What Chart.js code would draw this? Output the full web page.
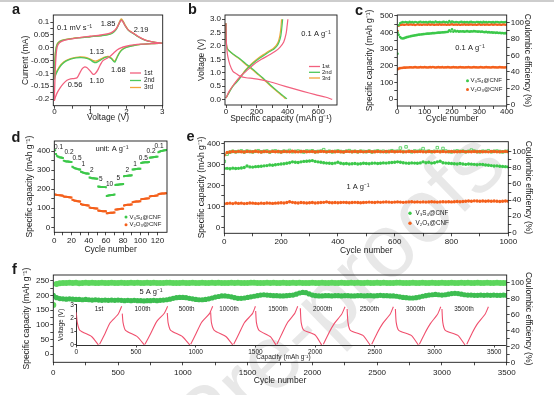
<!DOCTYPE html>
<html><head><meta charset="utf-8">
<script src="https://cdn.jsdelivr.net/npm/chart.js@4.4.1/dist/chart.umd.min.js"></script>
<style>
html,body{margin:0;padding:0;background:#fff}
#page{position:relative;width:554px;height:395px;overflow:hidden;background:#fff}
#page canvas{position:absolute;left:0;top:0}
#bar{position:absolute;left:0;top:0;width:554px;height:2px;background:#cdcdcd}
#wm{position:absolute;left:-23px;top:607px;font:90px Arial,"Liberation Sans",sans-serif;line-height:90px;color:#e8e8e8;white-space:nowrap;transform-origin:0 76px;transform:rotate(-44deg)}
</style></head><body>
<div id="page">
<div id="wm">Journal Pre-proofs</div>
<div id="bar"></div>
<canvas id="cA" width="554" height="395"></canvas>
<canvas id="cB" width="554" height="395"></canvas>
<canvas id="cC" width="554" height="395"></canvas>
<canvas id="cD" width="554" height="395"></canvas>
<canvas id="cE" width="554" height="395"></canvas>
<canvas id="cF" width="554" height="395"></canvas>
<canvas id="cI" width="554" height="395"></canvas>
</div>
<script>
// ================= DATA =================
// (a) cyclic voltammetry, 0.1 mV/s : voltage (V) and current (mA)
const cvV_1st = [3.0,2.7,2.4,2.2,2.0,1.85,1.75,1.65,1.55,1.45,1.35,1.27,1.2,1.14,1.1,1.05,0.98,0.9,0.83,0.77,0.7,0.63,0.55,0.45,0.35,0.25,0.15,0.08,0.03,0.0,
  0.01,0.03,0.06,0.1,0.2,0.4,0.7,1.0,1.3,1.5,1.62,1.72,1.79,1.84,1.87,1.91,1.97,2.05,2.15,2.22,2.3,2.45,2.6,2.8,3.0];
const cvI_1st = [0.018,0.016,0.014,0.011,0.006,0.0,-0.008,-0.02,-0.033,-0.042,-0.05,-0.068,-0.088,-0.1,-0.104,-0.1,-0.088,-0.077,-0.075,-0.082,-0.1,-0.117,-0.12,-0.121,-0.127,-0.14,-0.158,-0.175,-0.192,-0.205,
  -0.15,-0.07,-0.01,0.012,0.025,0.033,0.04,0.045,0.05,0.055,0.062,0.075,0.092,0.105,0.107,0.1,0.085,0.07,0.06,0.055,0.047,0.035,0.027,0.021,0.018];
const cvV_2nd = [3.0,2.7,2.4,2.2,2.0,1.9,1.82,1.76,1.71,1.68,1.64,1.58,1.5,1.42,1.35,1.28,1.2,1.14,1.08,1.0,0.9,0.75,0.6,0.45,0.32,0.22,0.14,0.08,0.03,0.0,
  0.01,0.03,0.06,0.1,0.2,0.4,0.7,1.0,1.3,1.5,1.62,1.72,1.79,1.84,1.87,1.91,1.97,2.05,2.15,2.22,2.3,2.45,2.6,2.8,3.0];
const cvI_2nd = [0.018,0.016,0.013,0.009,0.002,-0.006,-0.018,-0.033,-0.048,-0.056,-0.052,-0.042,-0.036,-0.037,-0.042,-0.048,-0.055,-0.058,-0.055,-0.047,-0.041,-0.038,-0.039,-0.044,-0.052,-0.063,-0.077,-0.092,-0.108,-0.122,
  -0.07,-0.02,0.005,0.018,0.028,0.034,0.039,0.043,0.047,0.051,0.058,0.072,0.092,0.106,0.108,0.101,0.085,0.069,0.059,0.053,0.045,0.034,0.026,0.021,0.018];
const cvV_3rd = cvV_2nd;
const cvI_3rd = [0.018,0.016,0.013,0.009,0.003,-0.005,-0.016,-0.03,-0.045,-0.052,-0.049,-0.04,-0.034,-0.035,-0.039,-0.044,-0.05,-0.052,-0.05,-0.044,-0.038,-0.036,-0.037,-0.042,-0.05,-0.06,-0.073,-0.088,-0.102,-0.112,
  -0.06,-0.015,0.008,0.02,0.029,0.035,0.04,0.044,0.048,0.052,0.06,0.075,0.095,0.11,0.112,0.104,0.088,0.071,0.061,0.055,0.046,0.035,0.027,0.021,0.018];
const cvNames = ['1st','2nd','3rd'];
const aYTicks = [0.1,0.05,0,-0.05,-0.1,-0.15,-0.2];
const aYLabels = ['0.1','0.05','0.0','-0.05','-0.1','-0.15','-0.2'];
const aXTicks = [0,1,2,3];
const aXLabels = ['0','1','2','3'];

// (b) galvanostatic profiles, 0.1 A/g : capacity (mAh/g), voltage (V)
const bDisCap_1st = [0,1,3,6,12,25,45,70,95,130,180,230,290,350,420,500,580,650,690];
const bDisV_1st   = [2.85,2.5,2.1,1.85,1.6,1.3,1.05,0.95,0.86,0.81,0.78,0.73,0.65,0.55,0.43,0.3,0.18,0.08,0.0];
const bChCap_1st  = [0,20,50,91,130,178,230,280,320,350,375,390,397,402];
const bChV_1st    = [0.05,0.3,0.55,0.85,1.05,1.3,1.5,1.66,1.8,1.95,2.15,2.45,2.75,3.0];
const bDisCap_2nd = [0,1,3,8,20,50,90,130,170,200,240,290,340,370,396];
const bDisV_2nd   = [2.85,2.4,2.05,1.92,1.82,1.68,1.52,1.33,1.15,1.0,0.8,0.53,0.28,0.14,0.02];
const bChCap_2nd  = [0,15,40,70,91,130,178,220,260,287,310,330,345,356,363,368];
const bChV_2nd    = [0.05,0.2,0.45,0.65,0.8,1.1,1.36,1.55,1.7,1.8,1.88,1.99,2.15,2.37,2.7,3.0];
const bDisCap_3rd = [0,1,3,8,20,50,90,130,170,200,240,290,340,365,388];
const bDisV_3rd   = [2.85,2.4,2.05,1.92,1.82,1.67,1.5,1.3,1.12,0.97,0.77,0.5,0.26,0.13,0.02];
const bChCap_3rd  = [0,15,40,70,91,130,175,215,255,282,305,325,340,350,357,361];
const bChV_3rd    = [0.05,0.22,0.47,0.68,0.82,1.12,1.38,1.57,1.72,1.82,1.9,2.01,2.17,2.4,2.7,3.0];
const bYTicks = [0,0.5,1,1.5,2,2.5,3];
const bYLabels = ['0.0','0.5','1.0','1.5','2.0','2.5','3.0'];
const bXTicks = [0,200,400,600];
const bXLabels = ['0','200','400','600'];

// (c) cycling at 0.1 A/g, cycles 1,5,10,...,400
const cStep = 5;
const cCapV3S4 = [398,385,372,365,363,365,368,371,373,375,377,379,380,382,383,385,386,387,388,389,
  390,391,392,392,393,394,395,395,396,397,398,398,399,400,400,401,402,403,412,405,
  418,404,410,405,408,404,406,405,406,404,405,407,405,404,406,405,407,406,405,404,
  405,403,404,402,401,403,400,401,399,400,398,399,397,398,396,397,395,396,394,395,393];
const cCapV2O3 = [178,182,185,186,187,188,188,189,189,190,190,189,190,191,190,189,190,191,190,190,
  191,190,189,190,191,190,192,190,189,190,191,190,190,191,189,190,190,191,190,189,
  190,191,190,190,189,190,191,190,190,189,190,190,191,190,189,190,191,190,190,189,
  190,191,190,189,190,191,190,190,189,190,191,190,190,189,190,191,190,190,189,190,190];
const cCEV3S4 = [62,97,99.5,100.2,100.8,100.4,101,100.6,100.2,101.2,100.5,100.9,100.3,101,100.7,100.1,100.8,101.3,100.4,100.9,
  100.6,101,100.2,100.8,101.1,100.5,100.9,100.3,101.4,100.7,100.6,101,100.4,100.8,101.2,100.5,100.9,100.3,102,100.6,
  101.5,100.8,100.4,101,100.7,100.2,100.9,101.1,100.5,100.8,100.6,101,100.3,100.9,101.2,100.5,100.7,100.4,101,100.8,
  100.6,100.9,100.3,101.1,100.6,100.8,100.4,101,100.7,100.5,100.9,100.2,100.8,101,100.6,100.4,100.9,100.7,100.5,101,100.6];
const cCEV2O3 = [90,96.2,97.1,97.4,97.8,97.3,97.6,98,97.4,97.7,97.9,97.5,97.8,97.2,97.6,98.1,97.5,97.7,97.3,97.9,
  97.6,97.8,97.4,98,97.5,97.7,97.9,97.3,97.6,97.8,97.5,98.1,97.4,97.7,97.6,97.9,97.3,97.8,97.5,97.7,
  98,97.4,97.6,97.8,97.5,97.9,97.3,97.7,97.6,98,97.5,97.8,97.4,97.7,97.9,97.5,97.6,97.8,97.3,97.7,
  98,97.5,97.6,97.9,97.4,97.7,97.8,97.5,97.6,98.1,97.4,97.7,97.9,97.5,97.6,97.8,97.3,97.7,97.9,97.5,97.6];
const cYTicks = [0,100,200,300,400,500];
const cY2Ticks = [0,20,40,60,80,100];
const cXTicks = [0,100,200,300,400];

// (d) rate capability, 10 cycles per rate
const dRates = ['0.1','0.2','0.5','1','2','5','10','5','2','1','0.5','0.2','0.1'];
const dCapV3S4 = [
  405,385,376,372,370,368,367,366,365,364,  350,348,347,346,345,345,344,344,343,343,
  318,315,312,310,309,308,306,305,304,303,  292,290,288,286,285,284,283,283,282,281,
  262,260,259,258,257,257,256,256,255,255,  214,213,213,212,212,212,211,211,211,210,
  165,166,167,168,168,169,170,170,171,172,  222,223,224,224,225,225,226,226,226,227,
  268,269,270,270,271,271,272,272,272,273,  303,304,305,305,306,306,307,307,308,308,
  338,339,340,340,341,341,342,342,342,343,  365,366,367,368,368,369,369,370,370,371,
  394,396,398,400,401,402,403,404,405,406];
const dCapV2O3 = [
  172,171,170,169,169,168,168,167,167,166,  162,161,160,160,159,159,158,158,157,157,
  145,143,141,140,139,138,137,137,136,136,  122,120,119,118,117,117,116,116,115,115,
  104,103,102,101,101,100,100,99,99,99,     88,87,87,86,86,85,85,85,84,84,
  74,74,75,75,76,76,77,77,78,78,            93,94,94,95,95,96,96,97,97,97,
  115,116,117,117,118,118,119,119,120,120,  132,133,134,134,135,135,136,136,137,137,
  147,148,149,149,150,150,151,151,152,152,  162,163,164,164,165,165,166,166,167,167,
  174,175,176,176,177,177,178,178,179,179];
const dYTicks = [0,100,200,300,400];
const dXTicks = [0,20,40,60,80,100,120];

// (e) cycling at 1 A/g, cycles 0,10,...,1000
const eStep = 10;
const eCapV3S4 = [280,281,279,282,280,281,283,285,292,288,287,289,290,291,293,294,297,296,298,300,
  302,303,305,308,312,310,309,312,314,315,316,318,314,312,310,308,306,305,304,306,
  310,305,303,304,302,303,304,302,303,305,304,303,305,306,304,305,307,306,308,309,
  310,312,310,308,306,305,307,306,305,307,312,308,310,306,308,312,315,308,306,305,
  304,303,302,304,302,300,302,301,300,298,300,299,297,296,294,292,293,291,290,289,288];
const eCapV2O3 = [112,114,115,113,116,114,115,113,114,116,115,114,113,115,114,116,115,114,115,116,
  117,116,118,122,119,117,116,118,117,116,117,118,116,117,118,119,121,118,117,118,
  117,118,119,118,117,118,119,118,117,118,119,120,119,118,120,119,120,121,120,119,
  120,121,120,119,120,121,122,120,121,120,121,120,121,122,121,120,121,122,121,122,
  121,122,123,122,123,124,125,124,126,125,124,125,124,125,124,125,124,123,124,125,124];
const eCEV3S4 = [88,97,99.5,100.5,99.8,100.3,101,99.6,100.8,100.2,99.7,100.5,101.2,99.9,100.4,100.9,99.5,100.6,101,100.1,
  99.8,100.7,100.3,101.5,99.9,100.4,100.8,100.2,99.6,100.9,100.5,101.1,99.8,100.3,100.7,102.5,100,100.6,99.7,100.4,
  100.9,100.2,99.9,100.6,101.3,100.1,100.5,99.8,100.7,100.3,100,100.8,99.6,100.4,101,100.2,100.6,99.9,100.5,101.2,
  100.3,100.7,104.5,100.1,106,100.6,99.8,100.9,100.4,101.5,103.8,100.2,100.7,99.9,100.5,105,100.3,104,100.8,100.1,
  99.7,100.5,101,100.2,100.6,99.9,100.4,102,100.7,100.1,99.8,100.6,100.3,101.2,99.9,100.5,100.8,100.2,99.7,100.4,100.6];
const eCEV2O3 = [96,99,99.6,100.2,99.8,100.4,100,99.7,100.3,100.1,99.9,100.5,100,99.6,100.3,100.1,99.8,100.4,100,100.2,
  99.7,100.3,100.1,99.9,100.5,100,99.8,100.2,100.4,99.9,100.1,100.3,99.7,100,100.4,100.2,99.8,100.1,100.3,99.9,
  100.2,100,99.7,100.4,100.1,99.9,100.3,100,100.2,99.8,100.1,100.4,99.9,100,100.3,100.1,99.8,100.2,100,100.4,
  99.9,100.1,100.3,99.8,100,100.2,100.4,99.9,100.1,100.3,100,99.8,100.2,100.1,99.9,100.4,100,100.2,99.8,100.1,
  100.3,99.9,100,100.2,100.4,99.8,100.1,100,100.3,99.9,100.2,100,100.1,99.8,100.3,100.2,99.9,100,100.1,100.4,100];
const eYTicks = [0,100,200,300,400];
const eY2Ticks = [0,20,40,60,80,100];
const eXTicks = [0,200,400,600,800,1000];

// (f) long cycling at 5 A/g, cycles 0,25,...,3500
const fStep = 25;
const fCapV3S4 = [200,192,189,188,187,188,187,186,186,185, 186,185,184,185,184,183,184,183,184,183,
  184,183,182,183,182,183,182,182,181,182, 182,183,182,183,184,185,187,190,192,193,
  193,192,190,188,186,185,185,186,188,191, 194,196,198,198,197,195,192,190,190,191,
  193,195,197,199,201,202,201,200,199,199, 198,198,199,200,201,204,208,210,209,205,
  201,199,198,198,199,199,198,199,199,198, 199,199,198,198,199,199,198,199,199,198,
  199,200,199,199,198,198,197,195,193,192, 191,191,192,194,197,199,201,202,203,202,
  201,202,204,206,207,206,204,202,201,201, 200,200,201,200,201,200,201,200,200,201, 200];
const fCEV3S4 = [72,98.5,99.4,99.8,99.5,100,99.6,99.9,99.4,99.8, 100.1,99.6,99.9,99.5,99.8,100,99.7,99.5,99.9,99.6,
  99.8,100.1,99.5,99.7,99.9,99.6,100,99.8,99.5,99.9, 99.7,100,99.6,99.8,99.5,99.9,100.1,99.7,99.6,99.8,
  99.9,99.5,99.8,100,99.6,99.7,99.9,99.5,99.8,100.1, 99.6,99.9,99.7,99.5,99.8,100,99.6,99.9,99.7,99.8,
  99.5,99.9,100.1,99.6,99.8,99.7,99.9,99.5,100,99.8, 99.6,99.9,99.7,99.8,100.1,99.5,99.9,99.6,99.8,99.7,
  100,99.6,99.8,99.9,99.5,99.7,100.1,99.8,99.6,99.9, 99.7,99.5,99.9,99.8,100,99.6,99.7,99.9,99.5,99.8,
  100.1,99.6,99.9,99.7,99.8,99.5,99.9,100,99.6,99.8, 99.7,99.9,99.5,99.8,100.1,99.6,99.7,99.9,99.8,99.6,
  100,99.8,99.5,99.9,99.7,99.6,100.1,99.8,99.9,99.5, 99.7,99.9,99.6,99.8,100,99.7,99.5,99.9,99.8,99.6, 99.8];
const fYTicks = [0,50,100,150,200,250];
const fY2Ticks = [0,20,40,60,80,100];
const fXTicks = [0,500,1000,1500,2000,2500,3000,3500];

// (f, inset) selected voltage profiles laid side by side on a capacity axis
const insetCycles = ['1st','100th','500th','1000th','1500th','2000th','2500th','3000th','3500th'];
const insetDisCap = [[0,8,30,130,185],[385,392,412,510,570],[762,769,790,890,950],[1125,1132,1155,1255,1310],[1502,1509,1530,1625,1672],
  [1876,1883,1905,2000,2055],[2268,2275,2295,2400,2460],[2672,2679,2700,2805,2864],[3062,3069,3090,3195,3255]];
const insetDisV = [[2.45,1.7,1.1,0.62,0],[2.35,1.65,1.1,0.63,0],[2.4,1.65,1.1,0.62,0],[2.45,1.65,1.1,0.62,0],[2.55,1.65,1.1,0.62,0],
  [2.75,1.7,1.12,0.75,0],[2.7,1.7,1.1,0.72,0],[2.7,1.7,1.1,0.72,0],[2.7,1.7,1.1,0.72,0]];
const insetChCap = [[195,240,282,350,380],[575,625,673,737,765],[958,1005,1050,1115,1142],[1318,1365,1410,1475,1500],[1680,1725,1770,1828,1854],
  [2069,2115,2160,2222,2250],[2474,2520,2565,2628,2655],[2873,2920,2965,3025,3052],[3270,3315,3360,3423,3451]];
const insetChV = [[0.05,0.85,1.65,2.3,2.9],[0.05,0.9,1.75,2.38,2.9],[0.05,0.9,1.7,2.35,2.9],[0.05,0.9,1.7,2.35,2.9],[0.05,0.9,1.7,2.35,2.9],
  [0.05,0.9,1.6,2.3,2.87],[0.05,0.9,1.6,2.3,2.87],[0.05,0.9,1.6,2.3,2.87],[0.05,0.9,1.6,2.3,2.87]];
const insetYTicks = [0,1,2,3];
const insetXTicks = [0,500,1000,1500,2000,2500,3000,3500];

// ================= STYLE =================
const FONT = 'Arial, "Liberation Sans", Helvetica, sans-serif';
const INK = '#1a1a1a';
const C_PINK = '#f2607e', C_GRN = '#4dc85a', C_ORG = '#f2a43a';
const M_GRN = '#3cc84a', M_ORG = '#f4601c';
const F_CE = '#5cd65c', F_CAP = '#3dbd50', INSET = '#f0506e';
const NAME_S = 'V\u2083S\u2084@CNF', NAME_O = 'V\u2082O\u2083@CNF';

const ANNO = {}, FRAME = {};
Chart.register({
  id: 'frame',
  afterDatasetsDraw(chart) {
    if (!FRAME[chart.canvas.id]) return;
    const {left, top, right, bottom} = chart.chartArea, ctx = chart.ctx;
    ctx.save(); ctx.strokeStyle = INK; ctx.lineWidth = 0.9;
    ctx.strokeRect(left, top, right - left, bottom - top); ctx.restore();
  }
}, {
  id: 'anno',
  afterDraw(chart) {
    const ctx = chart.ctx;
    for (const it of (ANNO[chart.canvas.id] || [])) {
      ctx.save();
      if (it.line) {
        ctx.strokeStyle = it.color; ctx.lineWidth = it.w || 1.3;
        ctx.beginPath(); ctx.moveTo(it.line[0], it.line[1]); ctx.lineTo(it.line[2], it.line[3]); ctx.stroke();
      } else if (it.dot) {
        ctx.fillStyle = it.color; ctx.beginPath(); ctx.arc(it.dot[0], it.dot[1], it.r || 1.5, 0, Math.PI * 2); ctx.fill();
      } else {
        ctx.font = (it.bold ? 'bold ' : '') + (it.fs || 7.5) + 'px ' + FONT;
        ctx.fillStyle = it.color || INK; ctx.textAlign = it.align || 'center';
        ctx.textBaseline = it.base || 'middle';
        ctx.translate(it.x, it.y); if (it.rot) ctx.rotate(it.rot);
        ctx.fillText(it.t, 0, 0);
      }
      ctx.restore();
    }
  }
});

function scale(o) {
  const all = [...o.major, ...(o.minor || [])].sort((a, b) => a - b);
  const labels = o.labels || o.major.map(String);
  const lab = new Map(o.major.map((v, i) => [v, labels[i]]));
  const horiz = o.pos === 'bottom' || o.pos === 'top';
  return {
    type: 'linear', position: o.pos, min: o.min, max: o.max,
    afterBuildTicks: s => { s.ticks = all.map(v => ({value: v})); },
    afterFit: s => { if (horiz) s.height = o.size; else s.width = o.size; },
    ticks: {autoSkip: false, maxRotation: 0, minRotation: 0, color: INK,
      font: {family: FONT, size: o.fs || 8}, padding: o.pad ?? 1,
      callback: v => lab.has(v) ? lab.get(v) : ''},
    grid: {display: true, drawOnChartArea: false, drawTicks: true, tickLength: o.tl || 3, color: INK, lineWidth: 0.8},
    border: {display: !!o.border, color: INK, width: 0.9},
    title: {display: !!o.title, text: o.title || '', color: INK, font: {family: FONT, size: o.tfs || 8.5}, padding: 0}
  };
}
function make(id, box, scales, datasets, anno) {
  ANNO[id] = anno || []; FRAME[id] = box.frame !== false;
  const pad = {left: box.l - box.yw, top: box.t, right: 554 - box.r - (box.y2w || 0), bottom: 395 - box.b - box.xh};
  return new Chart(document.getElementById(id), {
    type: 'scatter', data: {datasets},
    options: {responsive: false, animation: false, devicePixelRatio: 1, events: [],
      layout: {padding: pad},
      plugins: {legend: {display: false}, tooltip: {enabled: false}},
      scales}
  });
}
const zip = (xs, ys) => xs.map((x, i) => ({x, y: ys[i]}));
const line = (xs, ys, color, w, t, axis) => ({data: zip(xs, ys), showLine: true, pointRadius: 0, borderColor: color,
  borderWidth: w || 1.3, tension: t ?? 0.35, yAxisID: axis || 'y', fill: false});
const dots = (xs, ys, color, r, axis, style, hollow) => ({data: zip(xs, ys), showLine: false, pointRadius: r,
  pointStyle: style || 'circle', pointBackgroundColor: hollow ? 'rgba(0,0,0,0)' : color, pointBorderColor: color,
  pointBorderWidth: hollow ? 0.8 : 0, yAxisID: axis || 'y'});
const idx = (arr, f) => arr.map((_, i) => f(i));
const capT = 'Specific capacity (mAh g\u207B\u00B9)', ceT = 'Coulombic efficiency (%)', cycT = 'Cycle number';
const mid = (v) => v.slice(0, -1).map((x, i) => (x + v[i + 1]) / 2);

// ================= (a) =================
make('cA', {l: 53.3, t: 15, r: 162.7, b: 105.7, yw: 32.8, xh: 17.4}, {
  x: scale({pos: 'bottom', min: -0.03, max: 3.01, major: aXTicks, labels: aXLabels, minor: mid(aXTicks), size: 17.4, pad: -2, title: 'Voltage (V)'}),
  y: scale({pos: 'left', min: -0.226, max: 0.128, major: aYTicks, labels: aYLabels, minor: mid(aYTicks), size: 32.8, title: 'Current (mA)'})
}, [
  line(cvV_1st, cvI_1st, C_PINK, 1.3, 0.3),
  line(cvV_2nd, cvI_2nd, C_GRN, 1.3, 0.3),
  line(cvV_3rd, cvI_3rd, C_ORG, 1.3, 0.3)
], [
  {t: 'a', x: 12, y: 14, fs: 14.5, bold: true, align: 'left', base: 'alphabetic'},
  {t: '0.1 mV s\u207B\u00B9', x: 57, y: 28, align: 'left'},
  {t: '1.85', x: 108, y: 23.5}, {t: '2.19', x: 141, y: 29.5}, {t: '1.13', x: 96.7, y: 51.5},
  {t: '1.68', x: 118.3, y: 69.5}, {t: '1.10', x: 96.7, y: 80.5}, {t: '0.56', x: 75, y: 85},
  {line: [130, 73, 141, 73], color: C_PINK}, {line: [130, 80.5, 141, 80.5], color: C_GRN}, {line: [130, 87.5, 141, 87.5], color: C_ORG},
  {t: cvNames[0], x: 144, y: 73, fs: 6.3, align: 'left'}, {t: cvNames[1], x: 144, y: 80.5, fs: 6.3, align: 'left'}, {t: cvNames[2], x: 144, y: 87.5, fs: 6.3, align: 'left'}
]);

// ================= (b) =================
make('cB', {l: 225, t: 15, r: 337, b: 105, yw: 28.1, xh: 18.8}, {
  x: scale({pos: 'bottom', min: -6.5, max: 721, major: bXTicks, labels: bXLabels, minor: mid(bXTicks), size: 18.8, pad: -1.3, title: 'Specific capacity (mAh g\u207B\u00B9)'}),
  y: scale({pos: 'left', min: -0.21, max: 3.16, major: bYTicks, labels: bYLabels, minor: mid(bYTicks), size: 28.1, title: 'Voltage (V)'})
}, [
  line(bDisCap_1st, bDisV_1st, C_PINK, 1.2, 0.3), line(bChCap_1st, bChV_1st, C_PINK, 1.2, 0.3),
  line(bDisCap_2nd, bDisV_2nd, C_GRN, 1.2, 0.3), line(bChCap_2nd, bChV_2nd, C_GRN, 1.2, 0.3),
  line(bDisCap_3rd, bDisV_3rd, C_ORG, 1.2, 0.3), line(bChCap_3rd, bChV_3rd, C_ORG, 1.2, 0.3)
], [
  {t: 'b', x: 188, y: 14, fs: 14.5, bold: true, align: 'left', base: 'alphabetic'},
  {t: '0.1 A g\u207B\u00B9', x: 316, y: 34},
  {line: [309, 66.5, 320, 66.5], color: C_PINK}, {line: [309, 72.3, 320, 72.3], color: C_GRN}, {line: [309, 78, 320, 78], color: C_ORG},
  {t: cvNames[0], x: 322, y: 66.5, fs: 5.8, align: 'left'}, {t: cvNames[1], x: 322, y: 72.3, fs: 5.8, align: 'left'}, {t: cvNames[2], x: 322, y: 78, fs: 5.8, align: 'left'}
]);

// ================= (c) =================
const cX = idx(cCapV3S4, i => i === 0 ? 1 : i * cStep);
make('cC', {l: 397.3, t: 15, r: 506.7, b: 106, yw: 33, xh: 17.8, y2w: 25.4}, {
  x: scale({pos: 'bottom', min: 0, max: 400, major: cXTicks, minor: mid(cXTicks), size: 17.8, pad: -1.6, title: cycT}),
  y: scale({pos: 'left', min: -42, max: 504, major: cYTicks, minor: mid(cYTicks), size: 33, title: capT}),
  y2: scale({pos: 'right', min: -2, max: 109.4, major: cY2Ticks, minor: mid(cY2Ticks), size: 25.4, title: ceT})
}, [
  dots(cX, cCapV3S4, M_GRN, 1.3), dots(cX, cCapV2O3, M_ORG, 1.3),
  dots(cX, cCEV3S4, M_GRN, 1.2, 'y2'), dots(cX, cCEV2O3, M_ORG, 1.2, 'y2')
], [
  {t: 'c', x: 355, y: 14.5, fs: 14.5, bold: true, align: 'left', base: 'alphabetic'},
  {t: '0.1 A g\u207B\u00B9', x: 470, y: 47.5},
  {dot: [467.5, 80.7], color: M_GRN, r: 1.5}, {dot: [467.5, 89.5], color: M_ORG, r: 1.5},
  {t: NAME_S, x: 470.5, y: 80.7, fs: 6, align: 'left'}, {t: NAME_O, x: 470.5, y: 89.5, fs: 6, align: 'left'}
]);

// ================= (d) =================
const dX = idx(dCapV3S4, i => i + 1);
const dLabelPos = [[58.5,147.7],[69,152.3],[77,158.3],[83.3,164.3],[91.7,170],[100.7,179],[109.5,184.3],[118.3,178.3],[127.3,170],[135,164.3],[143.3,158.3],[151,151.7],[159,146.7]];
make('cD', {l: 54.3, t: 141, r: 167, b: 232.3, yw: 29.8, xh: 22.5}, {
  x: scale({pos: 'bottom', min: 0, max: 131, major: dXTicks, minor: mid(dXTicks), size: 22.5, pad: 0.4, title: cycT}),
  y: scale({pos: 'left', min: -26, max: 453, major: dYTicks, minor: mid(dYTicks), size: 29.8, title: capT})
}, [
  dots(dX, dCapV3S4, M_GRN, 1.4, 'y', 'rect'), dots(dX, dCapV2O3, M_ORG, 1.4, 'y', 'rect')
], [
  {t: 'd', x: 11.5, y: 141.5, fs: 14.5, bold: true, align: 'left', base: 'alphabetic'},
  {t: 'unit: A g\u207B\u00B9', x: 112, y: 149},
  ...dRates.map((r, i) => ({t: r, x: dLabelPos[i][0], y: dLabelPos[i][1], fs: 6.5})),
  {dot: [126, 217], color: M_GRN, r: 1.5}, {dot: [126, 224.7], color: M_ORG, r: 1.5},
  {t: NAME_S, x: 129.5, y: 217, fs: 6, align: 'left'}, {t: NAME_O, x: 129.5, y: 224.7, fs: 6, align: 'left'}
]);

// ================= (e) =================
const eX = idx(eCapV3S4, i => i * eStep);
make('cE', {l: 224.3, t: 141.7, r: 508.3, b: 233.3, yw: 27.4, xh: 22.5, y2w: 24.8}, {
  x: scale({pos: 'bottom', min: 0, max: 1000, major: eXTicks, minor: mid(eXTicks), size: 22.5, pad: 0.4, title: cycT}),
  y: scale({pos: 'left', min: -28.6, max: 408, major: eYTicks, minor: mid(eYTicks), size: 27.4, title: capT}),
  y2: scale({pos: 'right', min: -1.2, max: 112.4, major: eY2Ticks, minor: mid(eY2Ticks), size: 24.8, title: ceT})
}, [
  dots(eX, eCapV3S4, M_GRN, 1.7), dots(eX, eCapV2O3, M_ORG, 1.7),
  dots(eX, eCEV2O3, M_ORG, 1.7, 'y2'), dots(eX, eCEV3S4, M_GRN, 1.8, 'y2', 'rect', true)
], [
  {t: 'e', x: 186.5, y: 141, fs: 14.5, bold: true, align: 'left', base: 'alphabetic'},
  {t: '1 A g\u207B\u00B9', x: 358, y: 186.5},
  {dot: [410, 213.3], color: M_GRN, r: 1.7}, {dot: [410, 223.3], color: M_ORG, r: 1.7},
  {t: NAME_S, x: 415.5, y: 213.3, fs: 6.3, align: 'left'}, {t: NAME_O, x: 415.5, y: 223.3, fs: 6.3, align: 'left'}
]);

// ================= (f) =================
const fX = idx(fCapV3S4, i => i * fStep);
make('cF', {l: 53.3, t: 275, r: 506.7, b: 362.3, yw: 31.4, xh: 23.5, y2w: 27.1}, {
  x: scale({pos: 'bottom', min: 0, max: 3500, major: fXTicks, minor: mid(fXTicks), size: 23.5, pad: 2.7, title: cycT}),
  y: scale({pos: 'left', min: -28.3, max: 269.4, major: fYTicks, minor: mid(fYTicks), size: 31.4, title: capT}),
  y2: scale({pos: 'right', min: 0, max: 109.7, major: fY2Ticks, minor: mid(fY2Ticks), size: 27.1, title: ceT})
}, [
  dots(fX, fCEV3S4, F_CE, 3, 'y2'), dots(fX, fCapV3S4, F_CAP, 2.6)
], [
  {t: 'f', x: 12, y: 273.5, fs: 14.5, bold: true, align: 'left', base: 'alphabetic'},
  {t: '5 A g\u207B\u00B9', x: 151, y: 291.5}
]);

// ================= (f inset) =================
const insetLabelX = [99, 142.5, 186.7, 229, 278, 322.7, 369.3, 415.7, 464];
const insetSets = [];
insetCycles.forEach((_, k) => {
  insetSets.push(line(insetDisCap[k], insetDisV[k], INSET, 1.1, 0.2));
  insetSets.push(line(insetChCap[k], insetChV[k], INSET, 1.1, 0.2));
});
make('cI', {l: 76.3, t: 304.3, r: 505, b: 345.5, yw: 12, xh: 12, frame: false}, {
  x: scale({pos: 'bottom', min: 0, max: 3590, major: insetXTicks, size: 12, fs: 6.5, tl: 2, pad: 0.5, border: true}),
  y: scale({pos: 'left', min: -0.04, max: 3.05, major: insetYTicks, size: 12, fs: 6.5, tl: 2, pad: 0.5, border: true})
}, insetSets, [
  ...insetCycles.map((c, i) => ({t: c, x: insetLabelX[i], y: 309.3, fs: 6.3})),
  {t: 'Voltage (V)', x: 61.7, y: 325, fs: 6.5, rot: -Math.PI / 2},
  {t: 'Capacity (mAh g\u207B\u00B9)', x: 283.5, y: 357.5, fs: 6.5}
]);
</script>
</body></html>
